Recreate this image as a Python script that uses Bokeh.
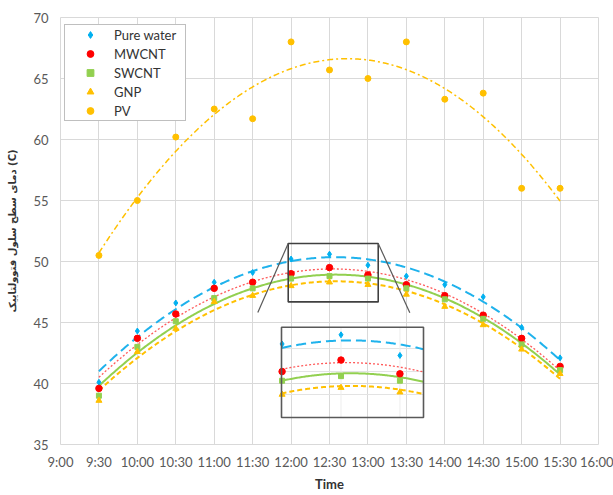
import numpy as np
from bokeh.plotting import figure
from bokeh.models import Range1d, FixedTicker, Legend, LegendItem
from bokeh.embed import file_html
from bokeh.resources import INLINE

# ---------------- data ----------------
times = ["9:30", "10:00", "10:30", "11:00", "11:30", "12:00", "12:30",
         "13:00", "13:30", "14:00", "14:30", "15:00", "15:30"]
pure_water = [40.1, 44.3, 46.6, 48.3, 49.1, 50.2, 50.6, 49.7, 48.8, 48.1, 47.1, 44.6, 42.1]
mwcnt = [39.6, 43.7, 45.7, 47.8, 48.3, 49.0, 49.5, 48.9, 48.1, 47.2, 45.6, 43.7, 41.4]
swcnt = [39.0, 43.0, 45.1, 47.0, 47.8, 48.6, 48.8, 48.6, 47.8, 46.9, 45.3, 43.2, 41.1]
gnp = [38.6, 42.6, 44.5, 46.7, 47.2, 48.0, 48.3, 48.1, 47.3, 46.3, 44.8, 42.8, 40.8]
pv = [50.5, 55.0, 60.2, 62.5, 61.7, 68.0, 65.7, 65.0, 68.0, 63.3, 63.8, 56.0, 56.0]
series_names = ["Pure water", "MWCNT", "SWCNT", "GNP", "PV"]
x_tick_labels = ["9:00", "9:30", "10:00", "10:30", "11:00", "11:30", "12:00", "12:30",
                 "13:00", "13:30", "14:00", "14:30", "15:00", "15:30", "16:00"]
y_ticks = [35, 40, 45, 50, 55, 60, 65, 70]
inset_y_grid = [48, 49, 50]
inset_x_grid = ["12:30", "13:00"]
y_label = "دمای سطح سلول فتوولتاییک (C)"
x_label = "Time"


def to_hours(t):
    h, m = t.split(":")
    return int(h) + int(m) / 60.0


hours = [to_hours(t) for t in times]
tick_hours = [to_hours(t) for t in x_tick_labels]

# ---------------- styles ----------------
styles = {
    "Pure water": dict(marker="diamond", size=6, color="#00B0F0",
                       lcolor="#1FB2EC", lw=2.0, dash="10 5"),
    "MWCNT": dict(marker="circle", size=6.5, color="#FF0000",
                  lcolor="#FF5A5A", lw=1.3, dash="2 2"),
    "SWCNT": dict(marker="square", size=5, color="#92D050",
                  lcolor="#92D050", lw=2.0, dash="solid"),
    "GNP": dict(marker="triangle", size=6, color="#FFC000",
                lcolor="#FFC000", lw=2.0, dash="5 3"),
    "PV": dict(marker="circle", size=6, color="#FFC000",
               lcolor="#FFC000", lw=1.5, dash="6 3 2 3"),
}
values = {"Pure water": pure_water, "MWCNT": mwcnt, "SWCNT": swcnt, "GNP": gnp, "PV": pv}

# frame placement (page pixels)
F_L, F_R, F_T, F_B = 60, 598, 17, 444
p = figure(frame_width=F_R - F_L, frame_height=F_B - F_T,
           output_backend="svg", toolbar_location=None,
           x_range=Range1d(9, 16), y_range=Range1d(35, 70),
           min_border_left=F_L, min_border_right=15, min_border_top=F_T,
           min_border_bottom=51)
p.background_fill_color = "white"
p.border_fill_color = "white"
p.outline_line_color = "#D9D9D9"

tick_font = "Lato"
for ax in (p.xaxis[0], p.yaxis[0]):
    ax.axis_line_color = None
    ax.major_tick_line_color = None
    ax.minor_tick_line_color = None
    ax.major_tick_out = 0
    ax.major_tick_in = 0
    ax.major_label_text_font = tick_font
    ax.major_label_text_font_size = "13px"
    ax.major_label_text_color = "#595959"

p.xaxis.ticker = FixedTicker(ticks=tick_hours)
p.xaxis.major_label_overrides = {h: lab for h, lab in zip(tick_hours, x_tick_labels)}
p.xaxis.major_label_standoff = 9
p.xaxis.axis_label = x_label
p.xaxis.axis_label_text_font = "Lato"
p.xaxis.axis_label_text_font_style = "bold"
p.xaxis.axis_label_text_font_size = "13px"
p.xaxis.axis_label_text_color = "#333333"
p.xaxis.axis_label_standoff = 3

p.yaxis.ticker = FixedTicker(ticks=y_ticks)
p.yaxis.major_label_standoff = 12
p.yaxis.axis_label = y_label
p.yaxis.axis_label_text_font = "DejaVu Sans"
p.yaxis.axis_label_text_font_style = "bold"
p.yaxis.axis_label_text_font_size = "10px"
p.yaxis.axis_label_text_color = "#333333"
p.yaxis.axis_label_standoff = 12

p.xgrid.ticker = FixedTicker(ticks=tick_hours)
p.ygrid.ticker = FixedTicker(ticks=y_ticks)
p.grid.grid_line_color = "#D9D9D9"
p.grid.grid_line_width = 1

# ---------------- trendlines (2nd-order fits) ----------------
fits = {n: np.polyfit(hours, values[n], 2) for n in series_names}
xs = np.linspace(hours[0], hours[-1], 300)
for n in series_names:
    s = styles[n]
    p.line(xs, np.polyval(fits[n], xs), line_color=s["lcolor"], line_width=s["lw"],
           line_dash=s["dash"])

# ---------------- markers ----------------
legend_items = []
for n in series_names:
    s = styles[n]
    r = p.scatter(hours, values[n], marker=s["marker"], size=s["size"],
                  fill_color=s["color"], line_color=s["color"])
    legend_items.append(LegendItem(label=n, renderers=[r]))

# ---------------- zoom box & inset ----------------
INSET_PX = (281, 423, 326.7, 417)          # left, right, top, bottom (page px)
INSET_WIN = (11.995, 13.2, 47.0, 50.93)    # x0, x1, y0, y1 in data units
ix0, ix1, iy0, iy1 = INSET_WIN
bx0, bx1, by_top, by_bot = INSET_PX
sx = (ix1 - ix0) / (bx1 - bx0)
sy = (iy1 - iy0) / (by_bot - by_top)
p.extra_x_ranges = {"inset": Range1d(ix0 - (bx0 - F_L) * sx, ix1 + (F_R - bx1) * sx)}
p.extra_y_ranges = {"inset": Range1d(iy0 - (F_B - by_bot) * sy, iy1 + (by_top - F_T) * sy)}

# zoom rectangle on main chart and connectors
ZOOM_BOX = (11.963, 13.134, 46.69, 51.48)
zl, zr, zb, zt = ZOOM_BOX
p.quad(left=[zl], right=[zr], bottom=[zb], top=[zt], fill_color=None,
       line_color="#404040", line_width=1.6)
p.segment(x0=[zl, zr], y0=[zt, zt], x1=[11.567, 13.545], y1=[45.82, 45.79],
          line_color="#595959", line_width=1.2)

# inset grid
p.segment(x0=[ix0] * len(inset_y_grid), x1=[ix1] * len(inset_y_grid),
          y0=inset_y_grid, y1=inset_y_grid, line_color="#E3E3E3", line_width=1,
          x_range_name="inset", y_range_name="inset")
igx = [to_hours(t) for t in inset_x_grid]
p.segment(x0=igx, x1=igx, y0=[iy0] * len(igx), y1=[iy1] * len(igx),
          line_color="#EDEDED", line_width=1, x_range_name="inset", y_range_name="inset")

xi = np.linspace(ix0, ix1, 120)
for n in ["Pure water", "MWCNT", "SWCNT", "GNP"]:
    s = styles[n]
    p.line(xi, np.polyval(fits[n], xi), line_color=s["lcolor"], line_width=s["lw"],
           line_dash=s["dash"], x_range_name="inset", y_range_name="inset")
for n in ["Pure water", "MWCNT", "SWCNT", "GNP"]:
    s = styles[n]
    hx = [h for h in hours if ix0 - 0.01 <= h <= ix1]
    hy = [v for h, v in zip(hours, values[n]) if ix0 - 0.01 <= h <= ix1]
    p.scatter(hx, hy, marker=s["marker"], size=s["size"], fill_color=s["color"],
              line_color=s["color"], x_range_name="inset", y_range_name="inset")

p.quad(left=[ix0], right=[ix1], bottom=[iy0], top=[iy1], fill_color=None,
       line_color="#595959", line_width=1.6, x_range_name="inset", y_range_name="inset")

# ---------------- legend ----------------
legend = Legend(items=legend_items, location=(4, 323), margin=0, padding=1,
                glyph_width=48, glyph_height=17, label_height=17, label_standoff=-15,
                label_width=70, spacing=2,
                label_text_font="Lato", label_text_font_size="13px",
                label_text_color="#333333",
                border_line_color="#808080", border_line_width=1.5,
                background_fill_color="white", background_fill_alpha=1)
p.add_layout(legend, "center")

open("out.html", "w").write(file_html(p, INLINE))
